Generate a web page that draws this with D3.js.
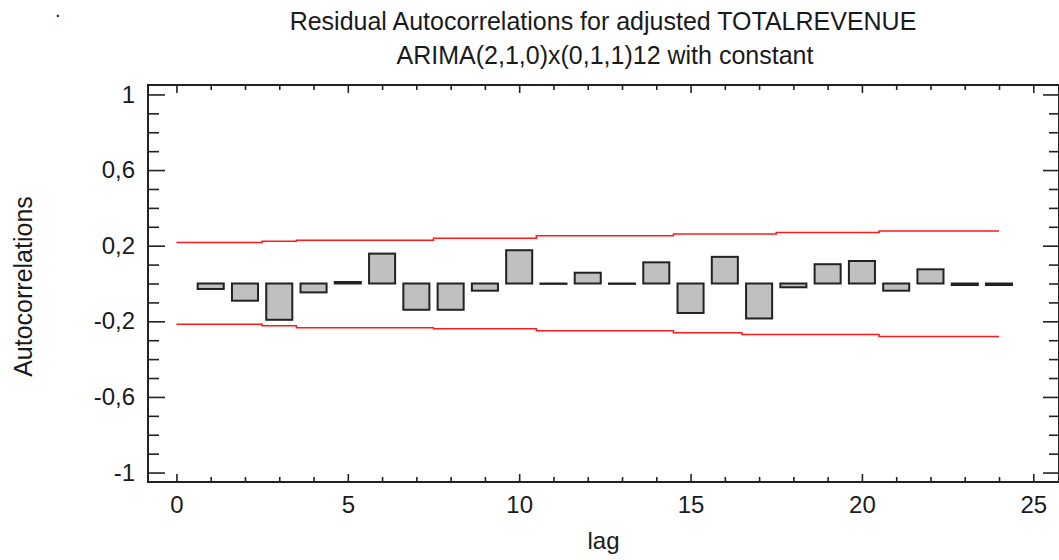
<!DOCTYPE html>
<html lang="en">
<head>
  <meta charset="UTF-8">
  <title>Residual Autocorrelations</title>
  <script src="https://cdnjs.cloudflare.com/ajax/libs/d3/7.8.5/d3.min.js"></script>
  <style>
    body { margin: 0; background: #fff; }
    svg { display: block; }
    text { font-family: "Liberation Sans", Arial, sans-serif; fill: #1a1a1a; }
    .frame { fill: none; stroke: #222; stroke-width: 2px; }
    .axis .domain { display: none; }
    .axis line { stroke: #222; stroke-width: 1.6px; }
    .axis text { font-size: 24px; fill: #1a1a1a; }
    .bar { fill: #c0c0c0; stroke: #222; stroke-width: 2px; }
    .limit { fill: none; stroke: #ff1a1a; stroke-width: 1.5px; }
  </style>
</head>
<body>
  <div id="graph"></div>
  <script>
    // residual autocorrelations, lags 1..24
    var lags = d3.range(1, 25);
    var acf = [-0.029, -0.091, -0.192, -0.047, 0.008, 0.158, -0.139, -0.139,
               -0.038, 0.176, -0.002, 0.057, -0.002, 0.112, -0.156, 0.141,
               -0.185, -0.020, 0.102, 0.119, -0.038, 0.075, -0.008, -0.008];
    // probability limits, lags 0..24
    var limitLags = d3.range(0, 25);
    var upper = [0.217, 0.217, 0.217, 0.223, 0.229, 0.229, 0.229, 0.229, 0.239, 0.239,
                 0.239, 0.252, 0.252, 0.252, 0.252, 0.262, 0.262, 0.262, 0.270, 0.270,
                 0.270, 0.278, 0.278, 0.278, 0.278];
    var lower = [-0.216, -0.216, -0.216, -0.224, -0.234, -0.234, -0.234, -0.234, -0.240, -0.240,
                 -0.240, -0.250, -0.250, -0.250, -0.250, -0.261, -0.261, -0.2695, -0.2695, -0.2695,
                 -0.2695, -0.280, -0.280, -0.280, -0.280];
    var xMajor = [0, 5, 10, 15, 20, 25];
    var xMinor = d3.range(1, 26).filter(function(d) { return d % 5 !== 0; });
    var yMajor = [-1, -0.6, -0.2, 0.2, 0.6, 1];
    var yMinor = [-0.9, -0.8, -0.7, -0.5, -0.4, -0.3, -0.1, 0, 0.1, 0.3, 0.4, 0.5, 0.7, 0.8, 0.9];

    var W = 1059, H = 560;
    var pLeft = 148, pRight = 1059, pTop = 85, pBottom = 482;

    var svg = d3.select("#graph").append("svg")
        .attr("width", W)
        .attr("height", H);

    var x = d3.scaleLinear().domain([-0.83, 25.75]).range([pLeft, pRight]);
    var y = d3.scaleLinear().domain([-1.05, 1.05]).range([pBottom, pTop]);

    var locale = d3.formatLocale({decimal: ",", thousands: ".", grouping: [3], currency: ["", ""], minus: "-"});
    var fmt = locale.format("");

    // titles
    svg.append("text").attr("x", 55).attr("y", 17).style("font-size", "20px").text(".");
    svg.append("text")
        .attr("x", 603).attr("y", 30)
        .attr("text-anchor", "middle")
        .style("font-size", "25px")
        .text("Residual Autocorrelations for adjusted TOTALREVENUE");
    svg.append("text")
        .attr("x", 605).attr("y", 64)
        .attr("text-anchor", "middle")
        .style("font-size", "25px")
        .text("ARIMA(2,1,0)x(0,1,1)12 with constant");

    // axis titles
    svg.append("text")
        .attr("transform", "translate(32," + ((pTop + pBottom) / 2 + 3) + ") rotate(-90)")
        .attr("text-anchor", "middle")
        .style("font-size", "25px")
        .text("Autocorrelations");
    svg.append("text")
        .attr("x", (pLeft + pRight) / 2).attr("y", 549)
        .attr("text-anchor", "middle")
        .style("font-size", "24px")
        .text("lag");

    // limits
    var line = function(vals) {
      return d3.line()
          .x(function(d, i) { return x(limitLags[i]); })
          .y(function(d) { return y(d); })
          .curve(d3.curveStep)(vals);
    };
    svg.append("path").attr("class", "limit").attr("d", line(upper));
    svg.append("path").attr("class", "limit").attr("d", line(lower));

    // bars
    var bw = 0.76;
    svg.selectAll(".bar")
        .data(acf)
      .enter().append("rect")
        .attr("class", "bar")
        .attr("x", function(d, i) { return x(lags[i] - bw / 2); })
        .attr("width", function() { return x(bw) - x(0); })
        .attr("y", function(d) { return y(Math.max(0, d)); })
        .attr("height", function(d) { return Math.abs(y(d) - y(0)); });

    // axes: major and minor ticks, all inward
    svg.append("g").attr("class", "axis")
        .attr("transform", "translate(" + pLeft + ",0)")
        .call(d3.axisLeft(y).tickValues(yMajor).tickSize(-17).tickPadding(13).tickFormat(fmt));
    svg.append("g").attr("class", "axis")
        .attr("transform", "translate(" + pLeft + ",0)")
        .call(d3.axisLeft(y).tickValues(yMinor).tickSize(-11).tickFormat(""));
    svg.append("g").attr("class", "axis")
        .attr("transform", "translate(" + pRight + ",0)")
        .call(d3.axisRight(y).tickValues(yMajor).tickSize(-16).tickFormat(""));
    svg.append("g").attr("class", "axis")
        .attr("transform", "translate(" + pRight + ",0)")
        .call(d3.axisRight(y).tickValues(yMinor).tickSize(-10).tickFormat(""));

    svg.append("g").attr("class", "axis")
        .attr("transform", "translate(0," + pBottom + ")")
        .call(d3.axisBottom(x).tickValues(xMajor).tickSize(-8).tickPadding(14).tickFormat(d3.format("d")));
    svg.append("g").attr("class", "axis")
        .attr("transform", "translate(0," + pBottom + ")")
        .call(d3.axisBottom(x).tickValues(xMinor).tickSize(-5).tickFormat(""));
    svg.append("g").attr("class", "axis")
        .attr("transform", "translate(0," + pTop + ")")
        .call(d3.axisTop(x).tickValues(xMajor).tickSize(-8).tickFormat(""));
    svg.append("g").attr("class", "axis")
        .attr("transform", "translate(0," + pTop + ")")
        .call(d3.axisTop(x).tickValues(xMinor).tickSize(-5).tickFormat(""));

    // frame
    svg.append("rect").attr("class", "frame")
        .attr("x", pLeft).attr("y", pTop)
        .attr("width", pRight - pLeft).attr("height", pBottom - pTop);
  </script>
</body>
</html>
